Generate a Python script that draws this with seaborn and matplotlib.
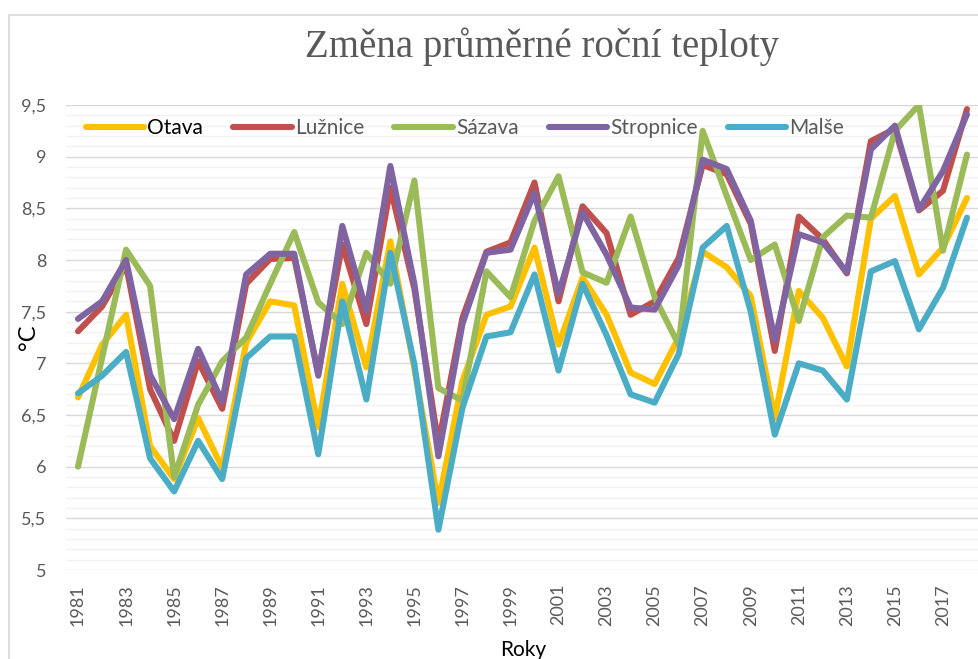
import seaborn as sns
import matplotlib.pyplot as plt
import matplotlib.ticker as mticker
from matplotlib.patches import Rectangle
import pandas as pd

# Years and mean annual temperature (°C) per river basin
years = list(range(1981, 2019))

otava = [6.67, 7.18, 7.47, 6.20, 5.88, 6.47, 5.99, 7.20, 7.60, 7.56,
         6.38, 7.77, 6.96, 8.18, 6.95, 5.65, 6.83, 7.47, 7.55, 8.12,
         7.18, 7.83, 7.47, 6.91, 6.80, 7.25, 8.08, 7.93, 7.65, 6.47,
         7.70, 7.44, 6.97, 8.40, 8.62, 7.86, 8.12, 8.60]
luznice = [7.31, 7.55, 7.95, 6.75, 6.25, 7.02, 6.56, 7.77, 8.01, 8.02,
           6.90, 8.15, 7.38, 8.70, 7.72, 6.22, 7.44, 8.08, 8.17, 8.75,
           7.60, 8.52, 8.26, 7.47, 7.60, 8.02, 8.92, 8.83, 8.35, 7.12,
           8.42, 8.20, 7.87, 9.15, 9.27, 8.48, 8.67, 9.46]
sazava = [6.00, 7.05, 8.10, 7.75, 5.90, 6.60, 7.02, 7.25, 7.77, 8.27,
          7.59, 7.38, 8.07, 7.77, 8.77, 6.76, 6.64, 7.89, 7.64, 8.38,
          8.81, 7.88, 7.78, 8.42, 7.64, 7.18, 9.25, 8.62, 8.00, 8.15,
          7.41, 8.22, 8.43, 8.41, 9.25, 9.50, 8.09, 9.02]
stropnice = [7.43, 7.60, 8.00, 6.89, 6.46, 7.14, 6.63, 7.86, 8.06, 8.06,
             6.88, 8.33, 7.51, 8.91, 7.77, 6.10, 7.38, 8.07, 8.10, 8.65,
             7.67, 8.46, 8.05, 7.54, 7.52, 7.95, 8.97, 8.88, 8.38, 7.22,
             8.25, 8.17, 7.88, 9.07, 9.30, 8.49, 8.86, 9.41]
malse = [6.71, 6.88, 7.11, 6.08, 5.76, 6.25, 5.88, 7.05, 7.26, 7.26,
         6.12, 7.60, 6.65, 8.07, 6.99, 5.39, 6.57, 7.26, 7.30, 7.86,
         6.93, 7.77, 7.27, 6.70, 6.62, 7.09, 8.12, 8.33, 7.50, 6.31,
         7.00, 6.93, 6.65, 7.89, 7.99, 7.33, 7.73, 8.41]

rivers = ['Otava', 'Lužnice', 'Sázava', 'Stropnice', 'Malše']
series = [otava, luznice, sazava, stropnice, malse]
colors = ['#FFC000', '#C0504D', '#9BBB59', '#8064A2', '#4BACC6']

df = pd.DataFrame({
    'Rok': years * len(rivers),
    'Řeka': [r for r in rivers for _ in years],
    'Teplota': [v for s in series for v in s],
})

sns.set_style("white")
plt.rcParams['font.family'] = ['Lato', 'DejaVu Sans']

fig = plt.figure(figsize=(9.79, 6.59), dpi=100)
ax = fig.add_axes([66 / 979, 1 - 570 / 659, 1 - 66 / 979, (570 - 105) / 659])

# light chart border (Excel chart area)
fig.patches.append(Rectangle((9 / 979, -0.1), 1.2, 1 - 15 / 659 + 0.1,
                             transform=fig.transFigure, fill=False,
                             edgecolor='#D9D9D9', linewidth=1.2, zorder=0))

sns.lineplot(data=df, x='Rok', y='Teplota', hue='Řeka', hue_order=rivers,
             palette=dict(zip(rivers, colors)), linewidth=4.4, ax=ax,
             legend=False, solid_capstyle='round', solid_joinstyle='round')

ax.set_xlim(1980.5, 2018.5)
ax.set_ylim(5, 9.5)
ax.set_xticks(years[::2])
ax.set_xticklabels([str(y) for y in years[::2]], rotation=90)
ax.yaxis.set_major_locator(mticker.MultipleLocator(0.5))
ax.yaxis.set_minor_locator(mticker.MultipleLocator(0.1))
ax.yaxis.set_major_formatter(mticker.FuncFormatter(
    lambda v, p: ('%g' % v).replace('.', ',')))

ax.grid(axis='y', which='major', color='#D9D9D9', linewidth=1.0)
ax.grid(axis='y', which='minor', color='#F2F2F2', linewidth=1.0)
ax.grid(axis='x', visible=False)
ax.set_axisbelow(True)
for s in ax.spines.values():
    s.set_visible(False)

ax.tick_params(axis='y', which='both', length=0, pad=14, labelsize=13,
               labelcolor='#595959')
ax.tick_params(axis='x', length=0, pad=10, labelsize=13, labelcolor='#595959')

ax.set_xlabel('')
ax.set_ylabel('')
fig.text(29 / 979, 1 - 337 / 659, '°C', rotation=90, ha='center', va='center',
         fontsize=17, color='black')
fig.text(523 / 979, 1 - 640 / 659, 'Roky', ha='center', va='top',
         fontsize=15, color='black')

fig.text(542 / 979, 1 - 57 / 659, 'Změna průměrné roční teploty',
         ha='center', va='baseline', fontsize=28, color='#595959',
         family=['Liberation Serif', 'DejaVu Serif'])

handles = [plt.Line2D([], [], color=c, linewidth=4.4, solid_capstyle='round')
           for c in colors]
leg = fig.legend(handles, rivers, loc='center', ncol=5, frameon=False,
                 bbox_to_anchor=(465 / 979, 1 - 128 / 659), fontsize=15,
                 handlelength=2.8, handletextpad=0.15, columnspacing=1.45)
for i, t in enumerate(leg.get_texts()):
    t.set_color('black' if i == 0 else '#595959')

plt.savefig('out.png', dpi=100)
plt.close()
